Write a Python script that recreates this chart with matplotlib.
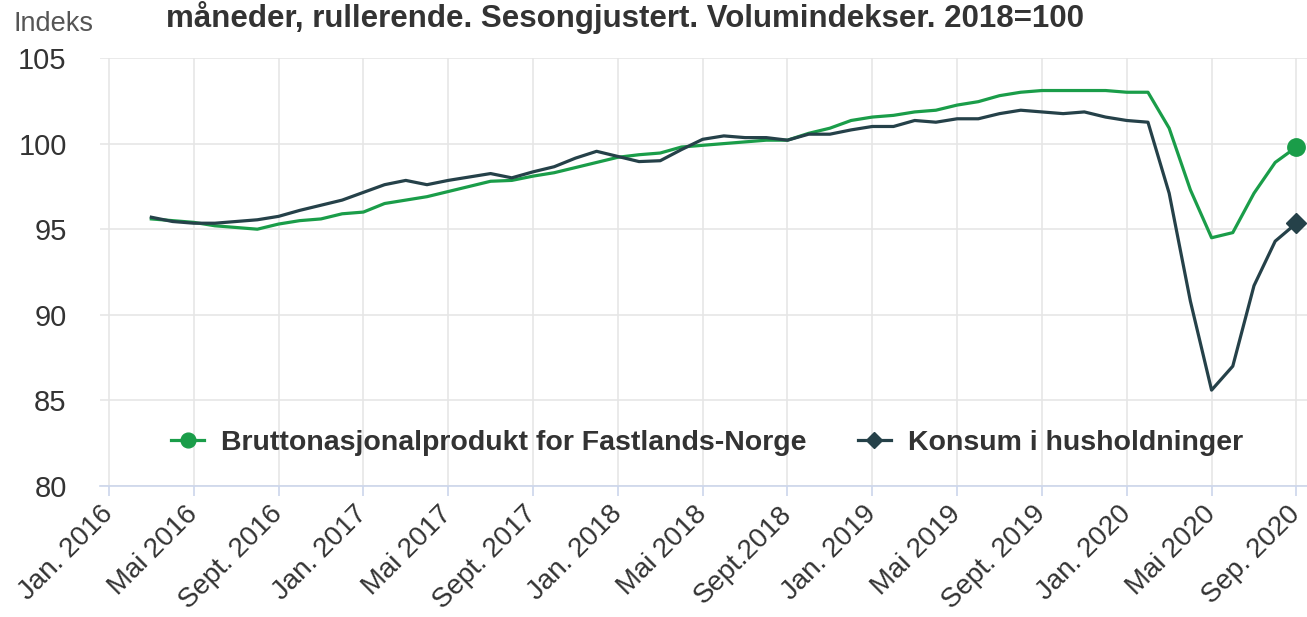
import matplotlib
matplotlib.use("Agg")
import matplotlib.pyplot as plt
import numpy as np

# ---- data ----
tick_labels = ["Jan. 2016", "Mai 2016", "Sept. 2016", "Jan. 2017", "Mai 2017", "Sept. 2017",
               "Jan. 2018", "Mai 2018", "Sept.2018", "Jan. 2019", "Mai 2019", "Sept. 2019",
               "Jan. 2020", "Mai 2020", "Sep. 2020"]
tick_months = list(range(0, 57, 4))   # months since Jan 2016
start_month = 2                        # data starts Mar 2016

bnp_fastland = [95.6, 95.5, 95.4, 95.2, 95.1, 95.0, 95.3, 95.5, 95.6, 95.9,
                96.0, 96.5, 96.7, 96.9, 97.2, 97.5, 97.8, 97.85, 98.1, 98.3, 98.6, 98.9,
                99.2, 99.35, 99.45, 99.8, 99.9, 100.0, 100.1, 100.2, 100.2, 100.6, 100.9, 101.35,
                101.55, 101.65, 101.85, 101.95, 102.25, 102.45, 102.8, 103.0, 103.1, 103.1, 103.1, 103.1,
                103.0, 103.0, 100.9, 97.3, 94.5, 94.8, 97.1, 98.9, 99.8]
konsum = [95.7, 95.45, 95.35, 95.35, 95.45, 95.55, 95.75, 96.1, 96.4, 96.7,
          97.15, 97.6, 97.85, 97.6, 97.85, 98.05, 98.25, 98.0, 98.35, 98.65, 99.15, 99.55,
          99.25, 98.95, 99.0, 99.65, 100.25, 100.45, 100.35, 100.35, 100.2, 100.55, 100.55, 100.8,
          101.0, 101.0, 101.35, 101.25, 101.45, 101.45, 101.75, 101.95, 101.85, 101.75, 101.85, 101.55,
          101.35, 101.25, 97.1, 90.8, 85.6, 87.0, 91.7, 94.3, 95.35]
series_names = ["Bruttonasjonalprodukt for Fastlands-Norge", "Konsum i husholdninger"]
yticks = [80, 85, 90, 95, 100, 105]

plt.rcParams['font.family'] = ['Liberation Sans', 'DejaVu Sans']

W, H = 1307, 617
fig = plt.figure(figsize=(W / 100, H / 100), dpi=100)
ax_left, ax_right, ax_top, ax_bottom = 100, 1307, 58, 486
ax = fig.add_axes([ax_left / W, 1 - ax_bottom / H, (ax_right - ax_left) / W, (ax_bottom - ax_top) / H])

x = np.arange(start_month, start_month + len(bnp_fastland))
green = "#1a9d49"
dark = "#254149"
ax.plot(x, bnp_fastland, color=green, lw=2.3, marker="o", markersize=12.5,
        markevery=[len(x) - 1], label=series_names[0], solid_joinstyle="round", zorder=3)
ax.plot(x, konsum, color=dark, lw=2.3, marker="D", markersize=10,
        markevery=[len(x) - 1], label=series_names[1], solid_joinstyle="round", zorder=3)

ax.set_xlim(-0.42, 56.5)
ax.set_ylim(80, 105)
ax.set_yticks(yticks)
ax.set_yticklabels([str(v) for v in yticks])
ax.set_xticks(tick_months)
ax.set_xticklabels(tick_labels, rotation=45, ha="right", va="center", rotation_mode="anchor")

for s in ["top", "right", "left"]:
    ax.spines[s].set_visible(False)
ax.spines["bottom"].set_color("#ccd6eb")
ax.spines["bottom"].set_linewidth(1.2)
ax.grid(True, color="#e6e6e6", lw=1.2, zorder=0)
ax.set_axisbelow(True)
ax.tick_params(axis="y", length=0, pad=24, labelsize=21, labelcolor="#333333")
ax.tick_params(axis="x", length=7.5, width=1.2, color="#ccd6eb", pad=10, labelsize=20, labelcolor="#333333")

leg = ax.legend(loc="center", bbox_to_anchor=(0.503, 0.1), ncol=2, frameon=False,
                prop={"weight": "bold", "size": 20.5}, handlelength=1.15, columnspacing=1.8,
                handletextpad=0.6, labelcolor="#333333", markerscale=0.85)

fig.text(14 / W, 1 - 24 / H, "Indeks", fontsize=19.5, color="#555555", va="center", ha="left")
fig.text(625 / W, 1 - 17 / H, "måneder, rullerende. Sesongjustert. Volumindekser. 2018=100",
         fontsize=22.5, fontweight="bold", color="#333333", ha="center", va="center")

fig.savefig("out.png", dpi=100)
